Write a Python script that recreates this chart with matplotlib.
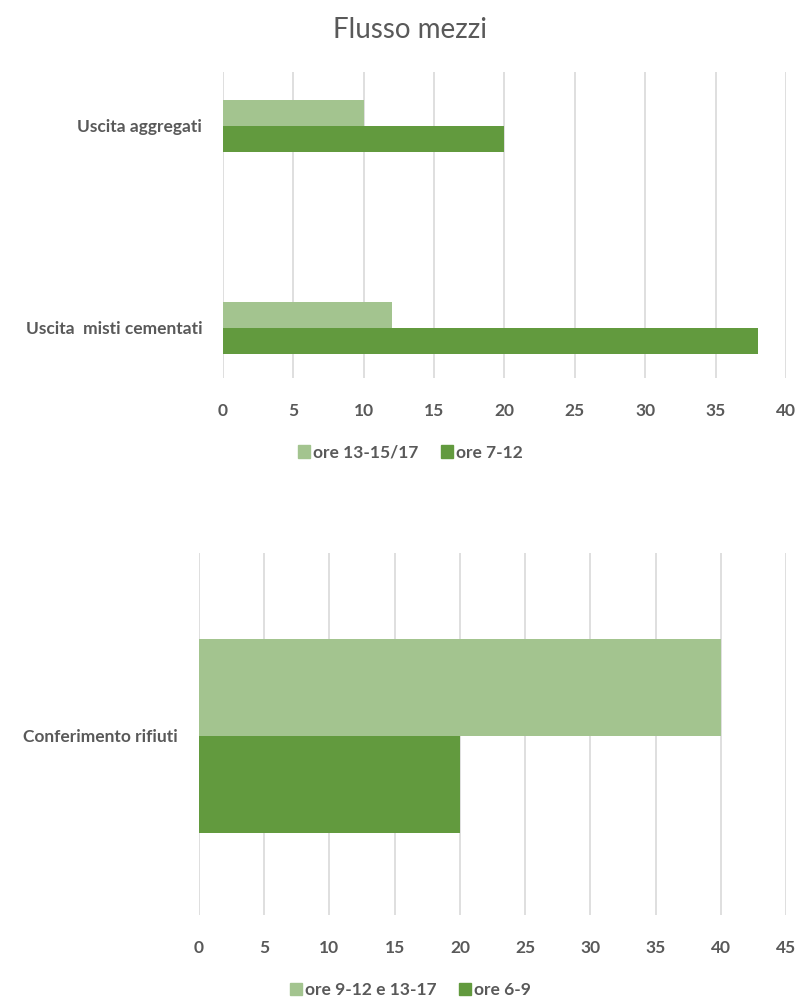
import numpy as np
import matplotlib
matplotlib.use('Agg')
import matplotlib.pyplot as plt
from matplotlib.patches import Patch

# data
cat_top = ['Uscita  misti cementati', 'Uscita aggregati']
top_pom = [12, 10]      # ore 13-15/17
top_mat = [38, 20]      # ore 7-12
top_names = ['ore 13-15/17', 'ore 7-12']
top_ticks = [0, 5, 10, 15, 20, 25, 30, 35, 40]

cat_bot = ['Conferimento rifiuti']
bot_day = [40]          # ore 9-12 e 13-17
bot_early = [20]        # ore 6-9
bot_names = ['ore 9-12 e 13-17', 'ore 6-9']
bot_ticks = [0, 5, 10, 15, 20, 25, 30, 35, 40, 45]

light = '#A3C48F'
dark = '#629A3E'
grid_c = '#D9D9D9'
txt = '#595959'

plt.rcParams['font.family'] = ['Lato', 'DejaVu Sans']

fig = plt.figure(figsize=(7.98, 9.99), dpi=100)

# top chart
ax1 = fig.add_axes([0.2794, 0.6216, 0.7056, 0.3063])
y = np.arange(len(cat_top))
h = 0.129
ax1.barh(y + h / 2, top_pom, height=h, color=light)
ax1.barh(y - h / 2, top_mat, height=h, color=dark)
ax1.set_ylim(-0.248, 1.267)
ax1.set_xlim(0, 40)
ax1.set_xticks(top_ticks)
ax1.set_yticks(y)
ax1.set_yticklabels(cat_top)

# bottom chart
ax2 = fig.add_axes([0.2494, 0.0841, 0.7356, 0.3624])
yb = np.arange(len(cat_bot))
hb = 0.97
ax2.barh(yb + hb / 2, bot_day, height=hb, color=light)
ax2.barh(yb - hb / 2, bot_early, height=hb, color=dark)
ax2.set_ylim(-1.79, 1.83)
ax2.set_xlim(0, 45)
ax2.set_xticks(bot_ticks)
ax2.set_yticks(yb)
ax2.set_yticklabels(cat_bot)

for ax in (ax1, ax2):
    for s in ax.spines.values():
        s.set_visible(False)
    ax.set_axisbelow(True)
    ax.grid(axis='x', color=grid_c, linewidth=1.2)
    ax.tick_params(axis='both', length=0, colors=txt, labelsize=12.5)
    ax.tick_params(axis='y', pad=15)
    ax.tick_params(axis='x', pad=18)
    for lab in ax.get_xticklabels() + ax.get_yticklabels():
        lab.set_fontweight('bold')
        lab.set_color(txt)

fig.text(0.514, 0.970, 'Flusso mezzi', ha='center', va='center',
         fontsize=20, color=txt)

fig.legend(handles=[Patch(color=light, label=top_names[0]),
                    Patch(color=dark, label=top_names[1])],
           loc='center', bbox_to_anchor=(0.514, 0.547), ncol=2, frameon=False,
           handlelength=0.7, handleheight=0.7, handletextpad=0.15,
           columnspacing=1.3, prop={'size': 12.5, 'weight': 'bold'},
           labelcolor=txt)
fig.legend(handles=[Patch(color=light, label=bot_names[0]),
                    Patch(color=dark, label=bot_names[1])],
           loc='center', bbox_to_anchor=(0.514, 0.009), ncol=2, frameon=False,
           handlelength=0.7, handleheight=0.7, handletextpad=0.15,
           columnspacing=1.3, prop={'size': 12.5, 'weight': 'bold'},
           labelcolor=txt)

fig.savefig('out.png', dpi=100)
